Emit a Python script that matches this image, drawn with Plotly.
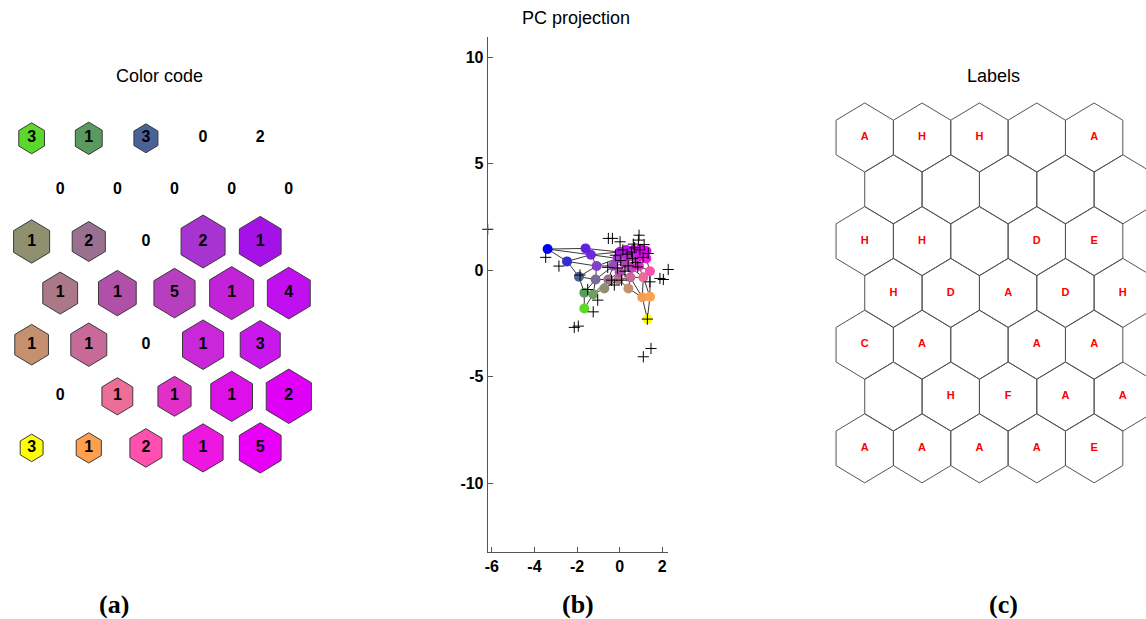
import numpy as np
import plotly.graph_objects as go

W, H = 1146, 619
ROWS, COLS = 7, 5

# ---- SOM map data (7 x 5 hexagonal grid, row-major) ----
hits = [
    [3, 1, 3, 0, 2],
    [0, 0, 0, 0, 0],
    [1, 2, 0, 2, 1],
    [1, 1, 5, 1, 4],
    [1, 1, 0, 1, 3],
    [0, 1, 1, 1, 2],
    [3, 1, 2, 1, 5],
]

# relative hexagon size per unit in the colour-code view (0 = not drawn)
hex_size = [
    [0.45, 0.47, 0.42, 0.00, 0.00],
    [0.00, 0.00, 0.00, 0.00, 0.00],
    [0.63, 0.58, 0.00, 0.77, 0.73],
    [0.61, 0.66, 0.72, 0.77, 0.75],
    [0.59, 0.63, 0.00, 0.72, 0.70],
    [0.00, 0.54, 0.58, 0.73, 0.79],
    [0.40, 0.44, 0.56, 0.70, 0.73],
]

node_colors = [
    ["#5CD82C", "#5A9A5E", "#4B6299", "#3030D0", "#0000FF"],
    ["#70A060", "#7A6A9A", "#8040C8", "#7028D8", "#6020E0"],
    ["#8E9070", "#9A7090", "#9850B8", "#A733D0", "#A412E8"],
    ["#AB7888", "#B050A8", "#B83EC0", "#C222D8", "#C010F0"],
    ["#C49070", "#C86A98", "#C840C0", "#C828D8", "#C818EC"],
    ["#F0A050", "#EC6E98", "#E030C8", "#DC10E8", "#E000F8"],
    ["#FFFF00", "#FFA050", "#FF50B0", "#EC18E0", "#E800F8"],
]

unit_labels = [
    ["A", "H", "H", "", "A"],
    ["", "", "", "", ""],
    ["H", "H", "", "D", "E"],
    ["H", "D", "A", "D", "H"],
    ["C", "A", "", "A", "A"],
    ["", "H", "F", "A", "A"],
    ["A", "A", "A", "A", "E"],
]

# prototype vectors projected on the first two principal components
proto_pc1 = [
    [-1.66, -1.66, -1.91, -2.47, -3.38],
    [-1.24, -1.13, -1.08, -1.35, -1.60],
    [-0.72, -0.53, -0.30, -0.10, 0.00],
    [-0.06, 0.00, 0.25, 0.35, 0.30],
    [0.41, 0.50, 0.55, 0.70, 0.65],
    [1.06, 1.11, 0.90, 0.95, 1.00],
    [1.30, 1.42, 1.42, 1.25, 1.25],
]
proto_pc2 = [
    [-1.80, -1.06, -0.31, 0.41, 0.99],
    [-1.13, -0.44, 0.19, 0.72, 1.02],
    [-0.86, -0.44, 0.20, 0.55, 0.85],
    [-0.44, -0.10, 0.30, 0.65, 0.95],
    [-0.86, -0.34, 0.10, 0.60, 0.95],
    [-1.28, -0.34, 0.20, 0.65, 1.00],
    [-2.30, -1.25, -0.05, 0.55, 0.90],
]

# data samples projected on the same components
sample_pc1 = [-6.19, -3.47, -2.85, -1.86, -1.50, -1.03, -1.24, -2.13, -1.94, 1.11,
              1.47, 1.30, 1.42, 1.89, 2.05, 2.28, -0.25, -0.34, 0.02, 0.91,
              0.88, 0.64, 1.34, -0.38, 0.09, -0.56, -0.53, 0.15, 0.35, 0.55,
              0.95, 1.10, 0.75, 0.40, 0.05, -0.20, 0.85, 0.25, 1.15, 0.60,
              -0.10, 0.70]
sample_pc2 = [1.92, 0.60, 0.19, -0.23, -0.91, -1.41, -1.96, -2.69, -2.63, -4.07,
              -3.68, -2.30, -0.55, -0.39, -0.44, 0.03, -0.70, 1.49, 1.33, 1.64,
              1.41, 1.22, 0.78, -0.47, -0.47, 0.13, 1.49, 0.95, 0.75, 0.85,
              0.95, 0.60, 0.35, 0.20, 0.45, 0.70, 0.15, -0.05, 1.20, 0.55,
              0.10, 1.05]

x_ticks = [-6, -4, -2, 0, 2]
y_ticks = [-10, -5, 0, 5, 10]

FONT = "Liberation Sans, Arial, sans-serif"
SERIF = "Liberation Serif, Times New Roman, serif"


def hex_center(r, c):
    return c + 0.5 * (r % 2), r


def hex_outline(r, c, s):
    cx, cy = hex_center(r, c)
    ang = np.deg2rad(90 + 60 * np.arange(7))
    rx, ry = 1 / np.sqrt(3), 2 / 3
    return cx + s * rx * np.cos(ang), cy + s * ry * np.sin(ang)


def x_axis_from_pixels(p0, p1, origin, step):
    return dict(domain=[p0 / W, p1 / W],
                range=[(p0 - origin) / step, (p1 - origin) / step])


def y_axis_from_pixels(p0, p1, origin, step):
    # p0 / p1 are pixel rows from the top; grid rows grow downward
    return dict(domain=[1 - p1 / H, 1 - p0 / H],
                range=[(p1 - origin) / step, (p0 - origin) / step])


fig = go.Figure()

# ---------- (a) colour code with hit counts ----------
for r in range(ROWS):
    for c in range(COLS):
        s = hex_size[r][c]
        if s <= 0:
            continue
        hx, hy = hex_outline(r, c, s)
        fig.add_trace(go.Scatter(
            x=hx, y=hy, mode="lines", fill="toself",
            fillcolor=node_colors[r][c],
            line=dict(color="#3a3a3a", width=1),
            hoverinfo="skip", showlegend=False, xaxis="x", yaxis="y"))

ax_, ay_, at_ = [], [], []
for r in range(ROWS):
    for c in range(COLS):
        cx, cy = hex_center(r, c)
        ax_.append(cx)
        ay_.append(cy)
        at_.append("<b>" + str(hits[r][c]) + "</b>")
fig.add_trace(go.Scatter(
    x=ax_, y=ay_, text=at_, mode="text",
    textfont=dict(family=FONT, size=16, color="black"),
    hoverinfo="skip", showlegend=False, xaxis="x", yaxis="y"))

# ---------- (b) PC projection ----------
ex, ey = [], []
for r in range(ROWS):
    for c in range(COLS):
        nbrs = []
        if c + 1 < COLS:
            nbrs.append((r, c + 1))
        if r + 1 < ROWS:
            cols = (c - 1, c) if r % 2 == 0 else (c, c + 1)
            for cc in cols:
                if 0 <= cc < COLS:
                    nbrs.append((r + 1, cc))
        for rr, cc in nbrs:
            ex += [proto_pc1[r][c], proto_pc1[rr][cc], None]
            ey += [proto_pc2[r][c], proto_pc2[rr][cc], None]
fig.add_trace(go.Scatter(
    x=ex, y=ey, mode="lines", line=dict(color="#222222", width=0.9),
    hoverinfo="skip", showlegend=False, xaxis="x2", yaxis="y2"))

fig.add_trace(go.Scatter(
    x=[v for row in proto_pc1 for v in row],
    y=[v for row in proto_pc2 for v in row],
    mode="markers",
    marker=dict(size=10, color=[col for row in node_colors for col in row],
                line=dict(width=0)),
    hoverinfo="skip", showlegend=False, xaxis="x2", yaxis="y2"))

fig.add_trace(go.Scatter(
    x=sample_pc1, y=sample_pc2, mode="markers",
    marker=dict(symbol="cross-thin", size=8, color="black",
                line=dict(color="black", width=1)),
    cliponaxis=False,
    hoverinfo="skip", showlegend=False, xaxis="x2", yaxis="y2"))

# ---------- (c) labels ----------
lx, ly = [], []
for r in range(ROWS):
    for c in range(COLS):
        hx, hy = hex_outline(r, c, 1.0)
        lx += list(hx) + [None]
        ly += list(hy) + [None]
fig.add_trace(go.Scatter(
    x=lx, y=ly, mode="lines", line=dict(color="#555555", width=1),
    hoverinfo="skip", showlegend=False, xaxis="x3", yaxis="y3"))

tx, ty, tt = [], [], []
for r in range(ROWS):
    for c in range(COLS):
        if unit_labels[r][c]:
            cx, cy = hex_center(r, c)
            tx.append(cx)
            ty.append(cy)
            tt.append("<b>" + unit_labels[r][c] + "</b>")
fig.add_trace(go.Scatter(
    x=tx, y=ty, text=tt, mode="text",
    textfont=dict(family=FONT, size=11, color="#FF0000"),
    hoverinfo="skip", showlegend=False, xaxis="x3", yaxis="y3"))

hidden = dict(visible=False, showgrid=False, zeroline=False)
tick_font = dict(family=FONT, size=16, color="black", weight="bold")
axis_style = dict(showline=True, linecolor="#555555", linewidth=1,
                  ticks="inside", ticklen=5, tickcolor="#555555",
                  showgrid=False, zeroline=False, tickfont=tick_font)

fig.update_layout(
    width=W, height=H,
    margin=dict(l=0, r=0, t=0, b=0),
    paper_bgcolor="white", plot_bgcolor="rgba(0,0,0,0)",
    showlegend=False,
    xaxis=dict(**hidden, **x_axis_from_pixels(0, 320, 28.7, 57.3), anchor="y"),
    yaxis=dict(**hidden, **y_axis_from_pixels(100, 485, 138.3, 51.6), anchor="x"),
    xaxis3=dict(**hidden, **x_axis_from_pixels(820, W, 864.0, 57.5), anchor="y3"),
    yaxis3=dict(**hidden, **y_axis_from_pixels(98, 490, 137.5, 51.8), anchor="x3"),
    xaxis2=dict(domain=[486 / W, 667 / W], range=[-6.19, 2.28], anchor="y2",
                tickvals=x_ticks, ticktext=[str(v) for v in x_ticks], **axis_style),
    yaxis2=dict(domain=[1 - 552 / H, 1 - 37 / H], range=[-13.24, 10.95], anchor="x2",
                tickvals=y_ticks, ticktext=[str(v) for v in y_ticks], **axis_style),
)

titles = [("Color code", 157, 76), ("PC projection", 575, 18), ("Labels", 993, 76)]
for text, px, py in titles:
    fig.add_annotation(x=px / W, y=1 - py / H, xref="paper", yref="paper",
                       xanchor="center", yanchor="middle",
                       text=text, showarrow=False,
                       font=dict(family=FONT, size=18, color="black"))

panels = [("(a)", 111), ("(b)", 577), ("(c)", 1003)]
for text, px in panels:
    fig.add_annotation(x=px / W, y=1 - 604 / H, xref="paper", yref="paper",
                       xanchor="center", yanchor="middle",
                       text="<b>" + text + "</b>", showarrow=False,
                       font=dict(family=SERIF, size=26, color="black"))

fig.write_html("out.html")
